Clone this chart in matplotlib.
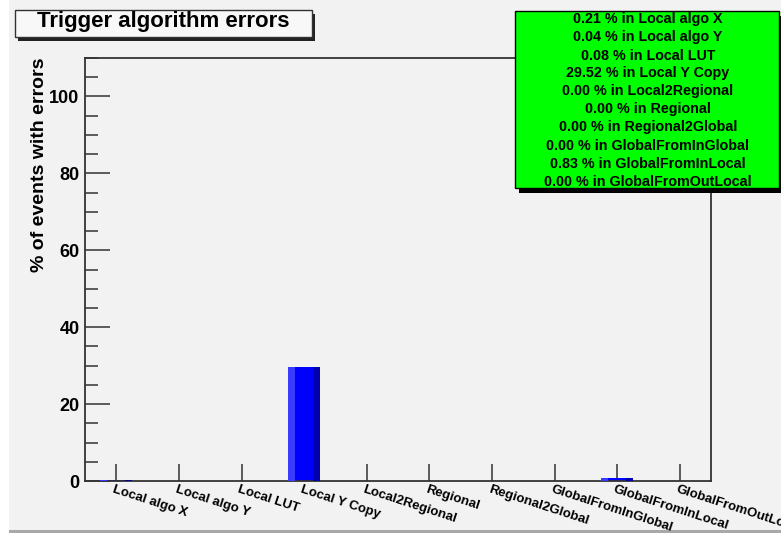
import matplotlib.pyplot as plt
from matplotlib.patches import Rectangle
from matplotlib.ticker import MultipleLocator
import numpy as np

# ------------------ DATA ------------------
categories = ["Local algo X", "Local algo Y", "Local LUT", "Local Y Copy",
              "Local2Regional", "Regional", "Regional2Global",
              "GlobalFromInGlobal", "GlobalFromInLocal", "GlobalFromOutLocal"]
error_pct = [0.21, 0.04, 0.08, 29.52, 0.00, 0.00, 0.00, 0.00, 0.83, 0.00]
y_ticks = [0, 20, 40, 60, 80, 100]

TITLE = "Trigger algorithm errors"
YLABEL = "% of events with errors"

BG = "#f2f2f2"
FONT = "Liberation Sans"

# ------------------ FIGURE ------------------
fig = plt.figure(figsize=(7.81, 5.34), dpi=100)
fig.patch.set_facecolor("white")
# canvas pad (grey) with a darker bottom edge
fig.patches.append(Rectangle((9 / 781, 3 / 534), 1 - 9 / 781, 1 - 3 / 534,
                             transform=fig.transFigure, facecolor=BG,
                             edgecolor="none", zorder=-10))
fig.patches.append(Rectangle((9 / 781, 1 / 534), 1 - 9 / 781, 3 / 534,
                             transform=fig.transFigure, facecolor="#a8a8a8",
                             edgecolor="none", zorder=-9))

ax = fig.add_axes([85 / 781, 53 / 534, 626 / 781, 423 / 534])
ax.set_facecolor(BG)

x = np.arange(len(categories)) + 0.5
bar_w = 0.51
strip = 0.11

# ROOT "bar2" style: light left strip, plain middle, dark right strip
ax.bar(x, error_pct, width=bar_w, color="#0000ff", linewidth=0, zorder=2)
ax.bar(x - bar_w / 2, error_pct, width=strip, align="edge",
       color="#3a3aff", linewidth=0, zorder=3)
ax.bar(x + bar_w / 2 - strip, error_pct, width=strip, align="edge",
       color="#0000b0", linewidth=0, zorder=3)

ax.set_xlim(0, len(categories))
ax.set_ylim(0, 110)

for s in ax.spines.values():
    s.set_linewidth(1.3)
    s.set_color("#333333")

ax.set_xticks(x)
ax.set_xticklabels([])
ax.tick_params(axis="x", direction="in", length=12, width=1.1, color="#333333")
for xi, lab in zip(x, categories):
    ax.annotate(lab, xy=(xi, 0), xycoords=("data", "axes fraction"),
                xytext=(-1, -2), textcoords="offset points",
                rotation=-18, rotation_mode="anchor", ha="left", va="top",
                fontsize=9.5, fontweight="bold", family=FONT,
                annotation_clip=False)

ax.set_yticks(y_ticks)
ax.yaxis.set_minor_locator(MultipleLocator(5))
ax.tick_params(axis="y", which="major", direction="in", length=18, width=1.1,
               color="#333333", labelsize=13, pad=4)
ax.tick_params(axis="y", which="minor", direction="in", length=9, width=1.1,
               color="#333333")
for t in ax.get_yticklabels():
    t.set_fontweight("bold")
    t.set_family(FONT)

ax.set_ylabel(YLABEL, fontsize=14, fontweight="bold", family=FONT)
ax.yaxis.set_label_coords(-37 / 626, 1 - 107 / 423)

# ------------------ TITLE BOX ------------------
fig.patches.append(Rectangle((18 / 781, 1 - 41 / 534), 297 / 781, 27 / 534,
                             transform=fig.transFigure, facecolor="#222222",
                             edgecolor="none", zorder=5))
fig.patches.append(Rectangle((15 / 781, 1 - 37 / 534), 297 / 781, 27 / 534,
                             transform=fig.transFigure, facecolor="#f8f8f8",
                             edgecolor="#333333", linewidth=1, zorder=6))
fig.text(163 / 781, 1 - 22 / 534, TITLE, ha="center", va="center",
         fontsize=16, fontweight="bold", family=FONT, zorder=7)

# ------------------ STATS BOX ------------------
bx0, by0, bw, bh = 515, 11, 264, 177
fig.patches.append(Rectangle(((bx0 + 4) / 781, 1 - (by0 + bh + 5) / 534),
                             bw / 781, bh / 534, transform=fig.transFigure,
                             facecolor="black", edgecolor="none", zorder=5))
fig.patches.append(Rectangle((bx0 / 781, 1 - (by0 + bh) / 534), bw / 781,
                             bh / 534, transform=fig.transFigure,
                             facecolor="#00ff00", edgecolor="black",
                             linewidth=1, zorder=6))
for i, (cat, val) in enumerate(zip(categories, error_pct)):
    fig.text(648 / 781, 1 - (19.5 + 18 * i) / 534, f"{val:.2f} % in {cat}",
             ha="center", va="center", fontsize=10.3, fontweight="bold",
             family=FONT, zorder=7)

plt.savefig("out.png", dpi=100, facecolor=fig.get_facecolor())
plt.close()
